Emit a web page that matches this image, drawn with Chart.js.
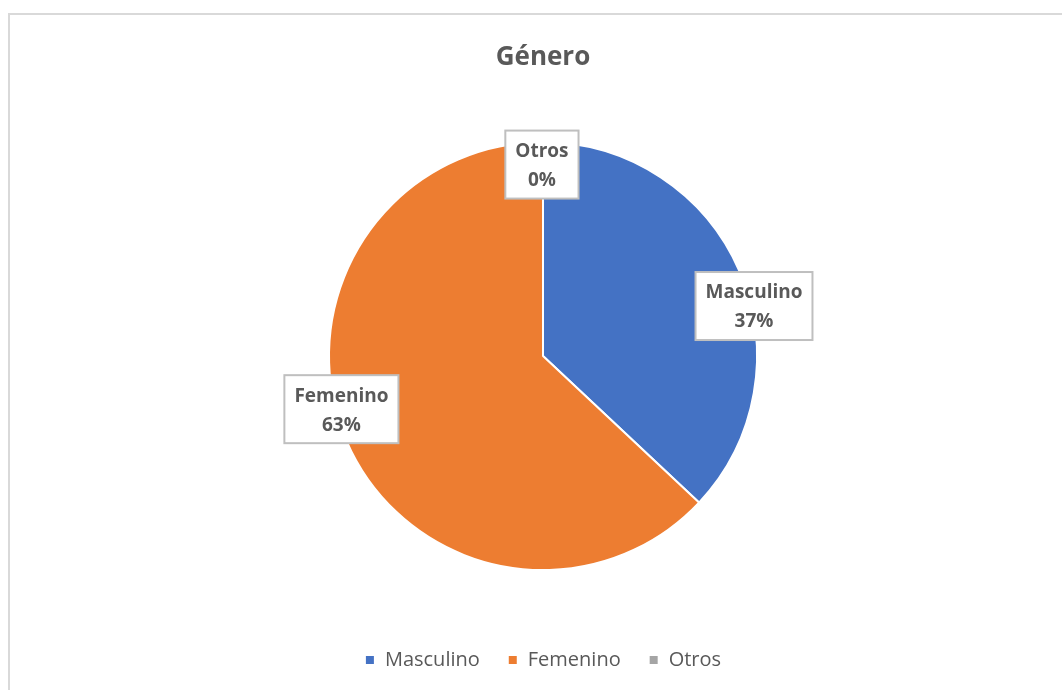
<!DOCTYPE html>
<html>
<head>
<meta charset="utf-8">
<script src="https://cdn.jsdelivr.net/npm/chart.js@4"></script>
<style>
  html, body { margin: 0; padding: 0; background: #fff; overflow: hidden; }
  #frame { position: absolute; left: 8px; top: 13px; width: 1100px; height: 700px;
           border-left: 2px solid #d9d9d9; border-top: 2px solid #d9d9d9; box-sizing: border-box; }
  #myChart { position: absolute; left: 0; top: 0; }
</style>
</head>
<body>
<div id="frame"></div>
<canvas id="myChart" width="1062" height="690"></canvas>
<script>
// --- data ---
const categories = ['Masculino', 'Femenino', 'Otros'];
const values = [37, 63, 0];
const sliceColors = ['#4472C4', '#ED7D31', '#A5A5A5'];

// where each data label box sits, in units of the pie radius from its centre
const labelPlacement = [
    { dx: 0.986, dy: -0.234 },
    { dx: -0.942, dy: 0.248 },
    { dx: -0.005, dy: -0.895 }
];

const textColor = '#595959';
const fontFamily = "'Open Sans', 'DejaVu Sans', sans-serif";

// draws the boxed "Name / NN%" labels like Excel does
const boxLabels = {
    id: 'boxLabels',
    afterDatasetsDraw(chart) {
        const ctx = chart.ctx;
        const meta = chart.getDatasetMeta(0);
        const data = chart.data.datasets[0].data;
        const total = data.reduce((a, b) => a + b, 0);
        ctx.save();
        ctx.font = 'bold 19px ' + fontFamily;
        ctx.textAlign = 'center';
        ctx.textBaseline = 'middle';
        meta.data.forEach((arc, i) => {
            const r = arc.outerRadius;
            const cx = arc.x + labelPlacement[i].dx * r;
            const cy = arc.y + labelPlacement[i].dy * r;
            const line1 = chart.data.labels[i];
            const line2 = Math.round(data[i] / total * 100) + '%';
            const w = Math.max(ctx.measureText(line1).width, ctx.measureText(line2).width) + 20;
            const h = 68;
            ctx.fillStyle = '#ffffff';
            ctx.fillRect(cx - w / 2, cy - h / 2, w, h);
            ctx.strokeStyle = '#bfbfbf';
            ctx.lineWidth = 2;
            ctx.strokeRect(cx - w / 2, cy - h / 2, w, h);
            ctx.fillStyle = textColor;
            ctx.fillText(line1, cx, cy - 13);
            ctx.fillText(line2, cx, cy + 16);
        });
        ctx.restore();
    }
};

const ctx = document.getElementById('myChart').getContext('2d');
const myChart = new Chart(ctx, {
    type: 'pie',
    data: {
        labels: categories,
        datasets: [{
            data: values,
            backgroundColor: sliceColors,
            borderColor: '#ffffff',
            borderWidth: 2,
            radius: 214
        }]
    },
    options: {
        responsive: false,
        animation: false,
        layout: { padding: { left: 24, bottom: 10 } },
        plugins: {
            title: {
                display: true,
                text: 'Género',
                color: textColor,
                font: { family: fontFamily, size: 26, weight: 'bold' },
                padding: { top: 42, bottom: 17 }
            },
            legend: {
                position: 'bottom',
                labels: {
                    usePointStyle: true,
                    pointStyle: 'rect',
                    boxWidth: 10,
                    boxHeight: 10,
                    padding: 28,
                    color: textColor,
                    font: { family: fontFamily, size: 20 }
                }
            },
            tooltip: { enabled: false }
        }
    },
    plugins: [boxLabels]
});
</script>
</body>
</html>
